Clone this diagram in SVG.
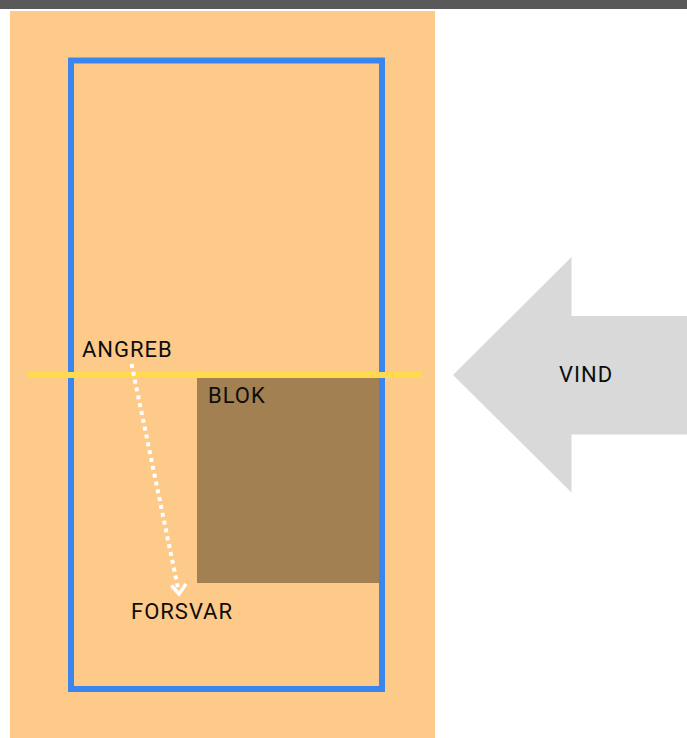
<svg xmlns="http://www.w3.org/2000/svg" width="687" height="738" viewBox="0 0 687 738">
  <style>
    .lbl { font-family: Roboto, "Liberation Sans", sans-serif; font-size: 22px; fill: #0d0d0d; letter-spacing: 1px; }
  </style>
  <rect x="0" y="0" width="687" height="738" fill="#ffffff"/>
  <rect x="0" y="0" width="687" height="9" fill="#595959"/>
  <g id="court">
    <rect x="10" y="11" width="425" height="727" fill="#FECA8A"/>
    <rect x="197" y="378" width="185" height="205" fill="#A38052"/>
    <rect x="71" y="60.5" width="311" height="628.5" fill="none" stroke="#3A86EE" stroke-width="6"/>
    <rect x="28" y="372" width="394" height="6" fill="#FFDA4F"/>
  </g>
  <g id="wind">
    <polygon points="453,375 571.5,257 571.5,316 687,316 687,434.5 571.5,434.5 571.5,492.5" fill="#D9D9D9"/>
    <text class="lbl" x="559" y="382">VIND</text>
  </g>
  <g id="angreb"><text class="lbl" x="82" y="357">ANGREB</text></g>
  <g id="blok"><text class="lbl" x="208" y="403">BLOK</text></g>
  <g id="forsvar"><text class="lbl" x="131" y="619">FORSVAR</text></g>
  <g id="connectors">
    <line x1="131.5" y1="364" x2="178" y2="588" stroke="#ffffff" stroke-width="4" stroke-dasharray="4 4"/>
    <path d="M171.5,585.5 L179,594 L186,584" fill="none" stroke="#ffffff" stroke-width="3.5"/>
  </g>
</svg>
